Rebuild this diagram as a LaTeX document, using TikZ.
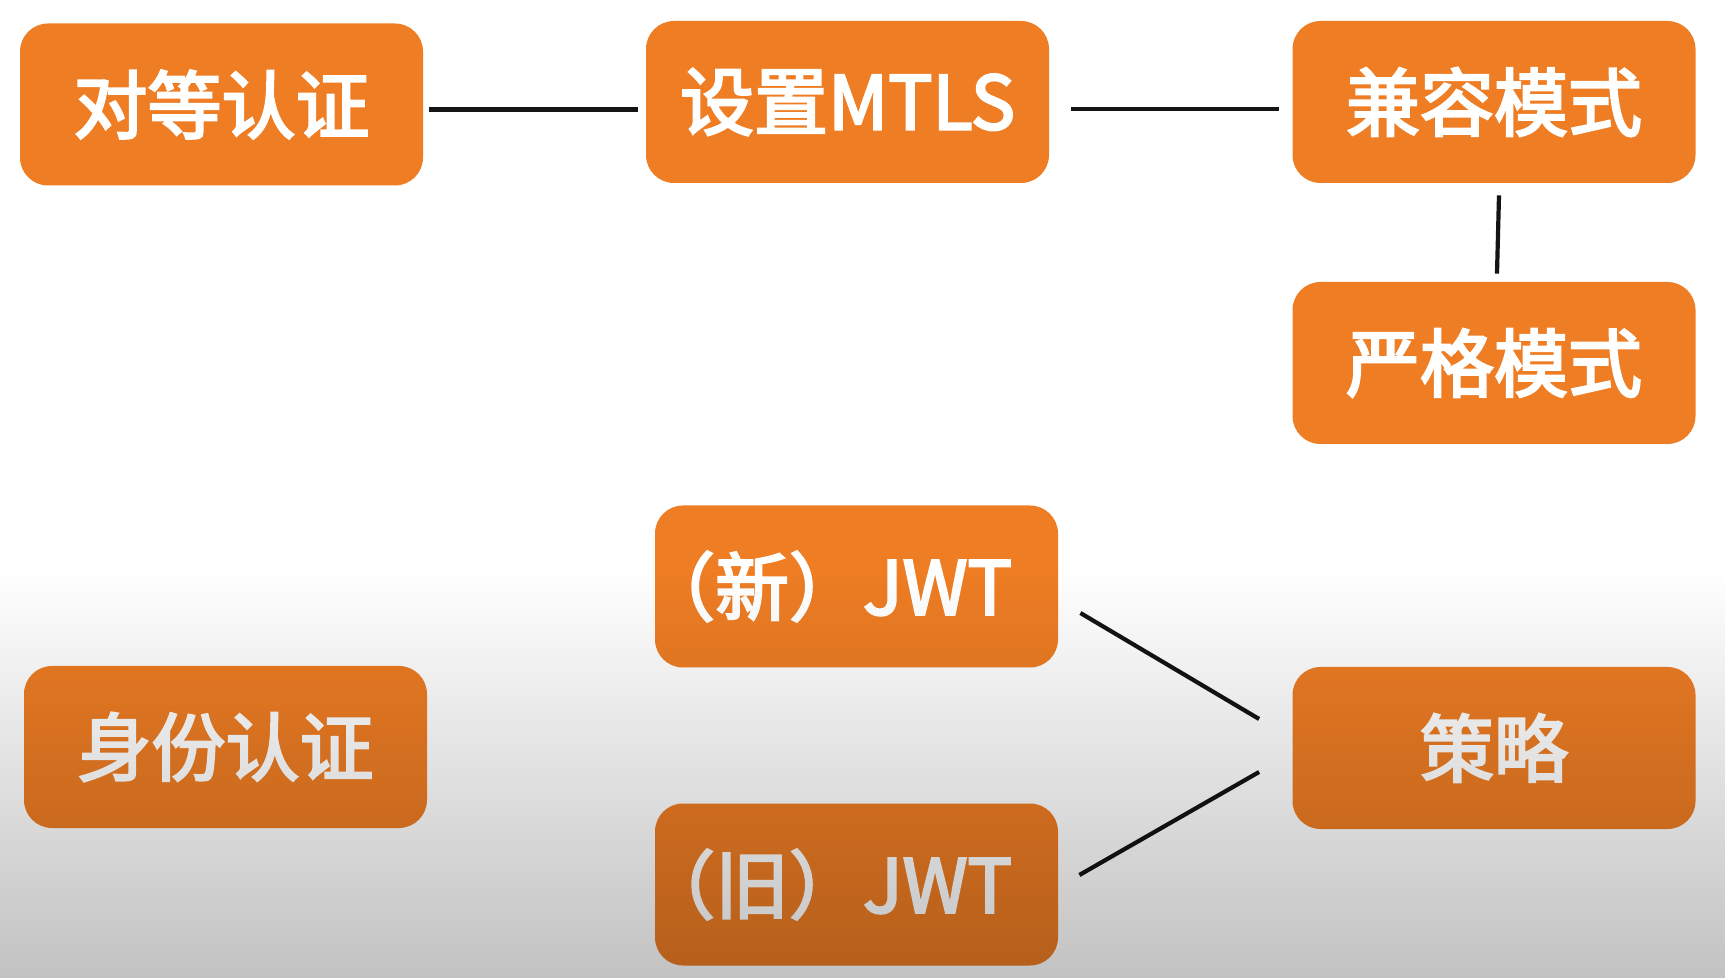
\documentclass[tikz,border=0pt]{standalone}
\usepackage{fontspec}
\newfontfamily\cjk[FakeBold=3.2]{Noto Sans CJK SC}
\usetikzlibrary{calc,fadings}
\definecolor{boxorange}{RGB}{238,125,36}
\definecolor{linecol}{RGB}{20,20,20}
\tikzfading[name=shadedown, top color=transparent!100, bottom color=transparent!76]
\tikzset{
  boxnode/.style={fill=boxorange, draw=none, rounded corners=14pt,
    minimum width=201.5pt, minimum height=81pt, inner sep=0pt,
    text=white, font=\cjk\fontsize{37}{40}\selectfont},
  conn/.style={draw=linecol, line width=2.1pt}
}
\begin{document}
\begin{tikzpicture}[x=0.5pt, y=-0.5pt]
\path[use as bounding box, fill=white] (0,0) rectangle (1726,978);
\node[boxnode] (peer)   at (221.5,104.5) {对等认证};
\node[boxnode] (mtls)   at (847.5,102)   {设置MTLS};
\node[boxnode] (compat) at (1494,102)    {兼容模式};
\node[boxnode] (strict) at (1494,363)    {严格模式};
\node[boxnode] (jnew)   at (856.5,586.5) {\makebox[0pt][c]{（新）JWT\kern30pt}};
\node[boxnode] (ident)  at (225.5,747)   {身份认证};
\node[boxnode] (policy) at (1494,748)    {策略};
\node[boxnode] (jold)   at (856.5,884.5) {\makebox[0pt][c]{（旧）JWT\kern30pt}};
\draw[conn] ($(peer.east)+(6,5)$) -- ($(mtls.west)+(-8,7.5)$);
\draw[conn] ($(mtls.east)+(22,7)$) -- ($(compat.west)+(-13,7)$);
\draw[conn] ($(compat.south)+(5,12)$) -- ($(strict.north)+(3,-8)$);
\draw[conn] ($(jnew.east)+(22,26.5)$) -- ($(policy.west)+(-33,-29)$);
\draw[conn] ($(jold.east)+(21,-9.5)$) -- ($(policy.west)+(-33,24)$);
\fill[black, path fading=shadedown] (0,570) rectangle (1726,978);
\end{tikzpicture}
\end{document}
